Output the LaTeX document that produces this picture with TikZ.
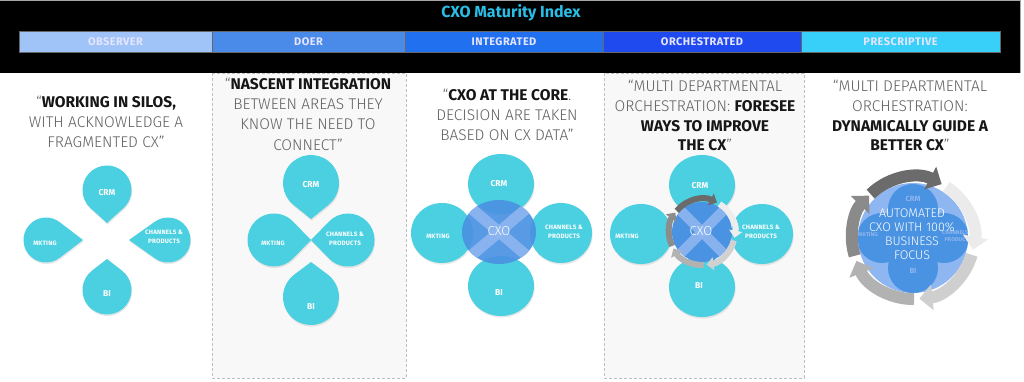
\documentclass[tikz,border=0pt]{standalone}
\usepackage{fontspec}
\setmainfont{Fira Sans}
\newfontfamily\lightf{Fira Sans Light}
\usetikzlibrary{calc,arrows.meta,shadows,shapes.geometric}
\definecolor{dropc}{RGB}{74,208,224}
\definecolor{cxob}{RGB}{74,146,226}
\definecolor{cxol}{RGB}{142,182,240}
\definecolor{titlec}{RGB}{40,190,230}
\definecolor{sa}{RGB}{160,196,248}
\definecolor{sb}{RGB}{74,138,232}
\definecolor{sc}{RGB}{32,112,240}
\definecolor{sd}{RGB}{31,74,240}
\definecolor{se}{RGB}{56,208,248}
\definecolor{txtg}{RGB}{95,95,95}
\definecolor{txtd}{RGB}{22,22,22}
\definecolor{panelbg}{RGB}{248,248,248}
\definecolor{dashc}{RGB}{190,190,190}
\newcommand\tb{\color{txtd}\normalfont\bfseries}
\newcommand\tdrop[6]{%
  \pgfmathsetmacro\dbt{acos(#4/#6)}%
  \coordinate (#1) at (#2,#3);
  \fill[dropfill] ($(#1)+(#5+\dbt:#4pt)$) -- ($(#1)+(#5:#6pt)$) -- ($(#1)+(#5-\dbt:#4pt)$)
    arc[start angle=#5-\dbt, delta angle=2*\dbt-360, radius=#4pt] -- cycle;
}
\tikzset{
  stagebox/.style={draw=black!60, line width=0.4pt, minimum height=21pt, inner sep=0,
    text=white!90!blue, font=\fontsize{11}{12}\selectfont\bfseries\addfontfeatures{LetterSpace=4}},
  qline/.style={anchor=base, inner sep=0, text=txtg, font=\fontsize{15.5}{20}\selectfont\lightf},
  dropfill/.style={fill=dropc,
    drop shadow={opacity=0.18, shadow xshift=0.6pt, shadow yshift=-1.6pt}},
  bub/.style={ellipse, fill=dropc, inner sep=0,
    drop shadow={opacity=0.18, shadow xshift=0.6pt, shadow yshift=-1.6pt}},
  bigl/.style={text=white, inner sep=0, font=\fontsize{8.5}{10}\selectfont\bfseries},
  smalll/.style={text=white, inner sep=0, align=center, font=\fontsize{6.3}{8.5}\selectfont\bfseries\addfontfeatures{LetterSpace=3}},
  cxot/.style={text=white, inner sep=0, font=\fontsize{13}{14}\selectfont\lightf},
  ringa/.style={line width=6pt, -{Triangle[width=13pt,length=7pt]}},
  ringb/.style={line width=12pt, -{Triangle[width=25pt,length=13pt]}},
  faint/.style={text=cxol, inner sep=0, align=center, font=\fontsize{7.5}{8}\selectfont\bfseries},
  autot/.style={text=white, inner sep=0, align=center, font=\fontsize{12.5}{14}\selectfont\lightf},
}
\begin{document}
\begin{tikzpicture}[x=1pt,y=1pt]
\useasboundingbox (0,0) rectangle (1024,-382);
\fill[white] (0,0) rectangle (1024,-382);
% panels
\filldraw[fill=panelbg, draw=dashc, dash pattern=on 3pt off 2pt] (212,-73) rectangle (406,-378);
\filldraw[fill=panelbg, draw=dashc, dash pattern=on 3pt off 2pt] (604,-73) rectangle (804,-378);
% header band
\fill[black] (0,-1) rectangle (1020,-73);
\draw[black!35, line width=0.8pt] (0,-0.6) -- (1020.4,-0.6) -- (1020.4,-73);
\node[font=\fontsize{16}{18}\selectfont\bfseries, text=titlec] (title) at (511,-13) {CXO Maturity Index};
\node[stagebox, fill=sa, minimum width=193pt] (st1) at (115.5,-41.5) {OBSERVER};
\node[stagebox, fill=sb, minimum width=193pt] (st2) at (308.5,-41.5) {DOER};
\node[stagebox, fill=sc, minimum width=198pt] (st3) at (504,-41.5) {INTEGRATED};
\node[stagebox, fill=sd, minimum width=198pt] (st4) at (702,-41.5) {ORCHESTRATED};
\node[stagebox, fill=se, minimum width=199pt] (st5) at (900.5,-41.5) {PRESCRIPTIVE};
% panel texts
\node[qline] (p1a) at (106,-108) {“{\tb WORKING IN SILOS,}};
\node[qline] (p1b) at (106,-128) {WITH ACKNOWLEDGE A};
\node[qline] (p1c) at (106,-148) {FRAGMENTED CX”};
\node[qline] (p2a) at (308,-90) {“{\tb NASCENT INTEGRATION}};
\node[qline] (p2b) at (308,-110) {BETWEEN AREAS THEY};
\node[qline] (p2c) at (308,-130) {KNOW THE NEED TO};
\node[qline] (p2d) at (308,-150) {CONNECT”};
\node[qline] (p3a) at (507,-101) {“{\tb CXO AT THE CORE}.};
\node[qline] (p3b) at (507,-121) {DECISION ARE TAKEN};
\node[qline] (p3c) at (507,-141) {BASED ON CX DATA”};
\node[qline] (p4a) at (705,-92) {“MULTI DEPARTMENTAL};
\node[qline] (p4b) at (705,-112) {ORCHESTRATION: {\tb FORESEE}};
\node[qline] (p4c) at (705,-132) {{\tb WAYS TO IMPROVE}};
\node[qline] (p4d) at (705,-151) {{\tb THE CX}”};
\node[qline] (p5a) at (910,-92) {“MULTI DEPARTMENTAL};
\node[qline] (p5b) at (910,-112) {ORCHESTRATION:};
\node[qline] (p5c) at (910,-132) {{\tb DYNAMICALLY GUIDE A}};
\node[qline] (p5d) at (910,-151) {{\tb BETTER CX}”};
% panel 1 drops
\tdrop{p1crm}{107}{-190}{24.5}{-90}{33}
\tdrop{p1mkt}{46}{-240}{22.5}{0}{37}
\tdrop{p1chn}{168}{-240}{22.5}{180}{39}
\tdrop{p1bi}{107}{-290}{24.5}{90}{31}
\node[bigl] (l1crm) at (107,-193) {CRM};
\node[smalll] (l1mkt) at (45,-243) {MKTING};
\node[smalll] (l1chn) at (164,-237) {CHANNELS \&\\PRODUCTS};
\node[bigl] (l1bi) at (107,-294) {BI};
% panel 2 drops
\tdrop{p2crm}{311}{-183}{28}{-90}{36}
\tdrop{p2mkt}{274}{-240}{26.5}{0}{37}
\tdrop{p2chn}{348}{-240}{26.5}{180}{37}
\tdrop{p2bi}{311}{-297}{28}{90}{35}
\node[bigl] (l2crm) at (311,-185) {CRM};
\node[smalll] (l2mkt) at (273,-243) {MKTING};
\node[smalll] (l2chn) at (345,-239) {CHANNELS \&\\PRODUCTS};
\node[bigl] (l2bi) at (311,-307) {BI};
% panel 3
\node[bub, minimum width=66pt, minimum height=60pt] (p3crm) at (501,-184) {};
\node[bub, minimum width=62pt, minimum height=60pt] (p3mkt) at (442,-233) {};
\node[bub, minimum width=62pt, minimum height=60pt] (p3chn) at (561,-233) {};
\node[bub, minimum width=66pt, minimum height=60pt] (p3bi) at (501,-286) {};
\node[bigl] (l3crm) at (499,-184) {CRM};
\node[smalll] (l3mkt) at (438,-236) {MKTING};
\node[smalll] (l3chn) at (564,-232) {CHANNELS \&\\PRODUCTS};
\node[bigl] (l3bi) at (499,-293) {BI};
\node[ellipse, fill=cxob, fill opacity=0.92, minimum width=74pt, minimum height=64pt, inner sep=0] (p3cxo) at (499,-232) {};
\begin{scope}
  \clip (499,-232) ellipse[x radius=37pt, y radius=32pt];
  \draw[cxol, line width=11pt, opacity=0.9] ($(p3cxo)+(-40,34)$) -- ($(p3cxo)+(40,-34)$);
  \draw[cxol, line width=11pt, opacity=0.9] ($(p3cxo)+(-40,-34)$) -- ($(p3cxo)+(40,34)$);
\end{scope}
\node[cxot] (l3cxo) at (499,-231) {CXO};
% panel 4
\node[bub, minimum width=66pt, minimum height=60pt] (p4crm) at (702,-185) {};
\node[bub, minimum width=62pt, minimum height=60pt] (p4mkt) at (641,-234) {};
\node[bub, minimum width=62pt, minimum height=60pt] (p4chn) at (762,-234) {};
\node[bub, minimum width=66pt, minimum height=60pt] (p4bi) at (702,-287) {};
\node[bigl] (l4crm) at (700,-186) {CRM};
\node[smalll] (l4mkt) at (627,-236) {MKTING};
\node[smalll] (l4chn) at (761,-232) {CHANNELS \&\\PRODUCTS};
\node[bigl] (l4bi) at (699,-286) {BI};
\node[circle, fill=cxob, minimum size=60pt, inner sep=0] (p4cxo) at (702,-232) {};
\begin{scope}
  \clip (702,-232) circle[radius=30pt];
  \draw[cxol, line width=10pt, opacity=0.9] ($(p4cxo)+(-34,34)$) -- ($(p4cxo)+(34,-34)$);
  \draw[cxol, line width=10pt, opacity=0.9] ($(p4cxo)+(-34,-34)$) -- ($(p4cxo)+(34,34)$);
\end{scope}
\node[cxot] (l4cxo) at (701,-231) {CXO};
\coordinate (r4) at (702,-232);
\draw[ringa, black!58] ($(r4)+(140:33pt)$) arc[start angle=140, end angle=63, radius=33pt];
\draw[ringa, black!7] ($(r4)+(58:33pt)$) arc[start angle=58, end angle=-10, radius=33pt];
\draw[ringa, black!18] ($(r4)+(-15:33pt)$) arc[start angle=-15, end angle=-82, radius=33pt];
\draw[ringa, black!30] ($(r4)+(-87:33pt)$) arc[start angle=-87, end angle=-150, radius=33pt];
\draw[ringa, black!45] ($(r4)+(-155:33pt)$) arc[start angle=-155, end angle=-216, radius=33pt];
% panel 5
\node[circle, fill=cxol, minimum size=110pt, inner sep=0] (p5disc) at (913,-238) {};
\begin{scope}
  \clip (913,-238) circle[radius=55pt];
  \fill[cxob] (913,-209) circle[radius=25pt];
  \fill[cxob] (913,-268) circle[radius=25pt];
  \fill[cxob] (882,-238) circle[radius=25pt];
  \fill[cxob] (944,-238) circle[radius=25pt];
  \fill[cxob] (913,-238) circle[radius=24pt];
\end{scope}
\node[faint] (l5crm) at (913,-199) {CRM};
\node[faint, font=\fontsize{5.5}{7}\selectfont\bfseries] (l5mkt) at (868,-235) {MKTING};
\node[faint, font=\fontsize{5.5}{7}\selectfont\bfseries] (l5chn) at (958,-236) {CHANNELS \&\\PRODUCTS};
\node[faint] (l5bi) at (913,-271) {BI};
\node[autot] (l5txt) at (912,-234) {AUTOMATED\\CXO WITH 100\%\\BUSINESS\\FOCUS};
\coordinate (r5) at (913,-238);
\draw[ringb, black!58] ($(r5)+(134:61pt)$) arc[start angle=134, end angle=62, radius=61pt];
\draw[ringb, black!8] ($(r5)+(57:61pt)$) arc[start angle=57, end angle=-11, radius=61pt];
\draw[ringb, black!19] ($(r5)+(-16:61pt)$) arc[start angle=-16, end angle=-84, radius=61pt];
\draw[ringb, black!30] ($(r5)+(-89:61pt)$) arc[start angle=-89, end angle=-158, radius=61pt];
\draw[ringb, black!46] ($(r5)+(-163:61pt)$) arc[start angle=-163, end angle=-224, radius=61pt];
\end{tikzpicture}
\end{document}
